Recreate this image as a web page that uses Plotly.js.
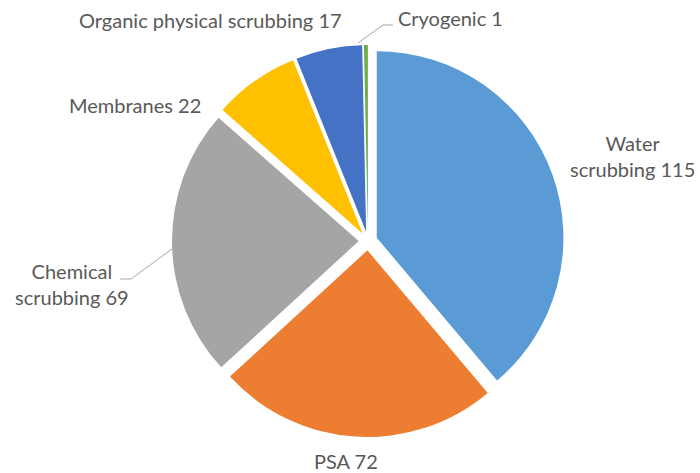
<!DOCTYPE html>
<html>
<head>
<meta charset="utf-8">
<script src="https://cdn.plot.ly/plotly-3.0.1.min.js"></script>
<style>html,body{margin:0;padding:0;background:#fff}#chart{width:700px;height:473px}</style>
</head>
<body>
<div id="chart"></div>
<script>
// ---- data ----
const labels = ['Water scrubbing', 'PSA', 'Chemical scrubbing', 'Membranes', 'Organic physical scrubbing', 'Cryogenic'];
const values = [115, 72, 69, 22, 17, 1];
const colors = ['#5B9BD5', '#ED7D31', '#A5A5A5', '#FFC000', '#4472C4', '#70AD47'];

// ---- label layout (page pixels) ----
const W = 700, H = 473;
const labelPos = [
  {x: 632, y: 156, anchor: 'center', wrap: true},
  {x: 346, y: 461, anchor: 'center', wrap: false},
  {x: 72,  y: 284, anchor: 'center', wrap: true},
  {x: 135, y: 105, anchor: 'center', wrap: false},
  {x: 210, y: 20,  anchor: 'center', wrap: false},
  {x: 396, y: 18,  anchor: 'left',   wrap: false}
];
const leaders = [
  'M120,279 L131,279 L172,249',
  'M358,43 L383,25 L393,25'
];

const px = x => x / W;
const py = y => 1 - y / H;

const annotations = labels.map((lab, i) => {
  const p = labelPos[i];
  let txt = lab;
  if (p.wrap) {
    const k = lab.lastIndexOf(' ');
    txt = lab.slice(0, k) + '<br>' + lab.slice(k + 1);
  }
  return {
    text: txt + ' ' + values[i],
    x: px(p.x), y: py(p.y), xref: 'paper', yref: 'paper',
    xanchor: p.anchor, yanchor: 'middle', align: 'center',
    showarrow: false,
    font: {family: 'Lato, "Open Sans", sans-serif', size: 20, color: '#595959'}
  };
});

const shapes = leaders.map(d => ({
  type: 'path', xref: 'paper', yref: 'paper',
  path: d.replace(/(\d+),(\d+)/g, (m, a, b) => px(+a).toFixed(5) + ',' + py(+b).toFixed(5)),
  line: {color: '#A6A6A6', width: 1}
}));

const cx = 368, cy = 241, half = 196;
const trace = {
  type: 'pie',
  labels: labels,
  values: values,
  marker: {colors: colors, line: {width: 0}},
  sort: false,
  direction: 'clockwise',
  rotation: 0,
  pull: 0.05,
  textinfo: 'none',
  hoverinfo: 'label+value',
  domain: {x: [px(cx - half), px(cx + half)], y: [py(cy + half), py(cy - half)]}
};

Plotly.newPlot('chart', [trace], {
  width: W, height: H,
  margin: {l: 0, r: 0, t: 0, b: 0},
  paper_bgcolor: '#ffffff',
  showlegend: false,
  annotations: annotations,
  shapes: shapes
}, {displayModeBar: false, staticPlot: true});
</script>
</body>
</html>
